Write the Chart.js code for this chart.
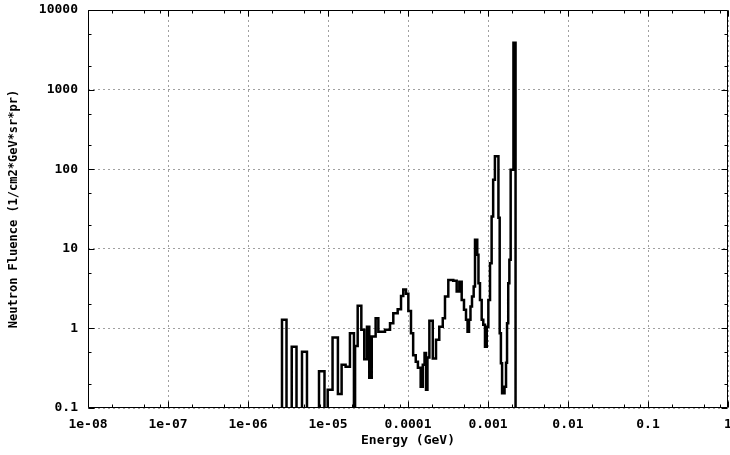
<!DOCTYPE html>
<html><head><meta charset="utf-8">
<script src="https://cdn.jsdelivr.net/npm/chart.js@4.4.0/dist/chart.umd.min.js"></script>
<style>html,body{margin:0;padding:0;background:#fff;}#wrap{width:730px;height:455px;}</style>
</head><body><div id="wrap"><canvas id="c" width="730" height="455"></canvas></div>
<script>
// bin left edges (GeV); the last entry is the right edge of the last bin
const binEdges = [
 2.66e-6,3.03e-6,3.52e-6,4.04e-6,4.73e-6,5.46e-6,7.72e-6,9.04e-6,9.91e-6,1.14e-5,
 1.33e-5,1.48e-5,1.66e-5,1.88e-5,2.11e-5,2.18e-5,2.35e-5,2.61e-5,2.84e-5,3.07e-5,
 3.28e-5,3.52e-5,3.94e-5,4.26e-5,5.16e-5,5.96e-5,6.55e-5,7.43e-5,8.18e-5,8.73e-5,
 9.44e-5,1.01e-4,1.09e-4,1.16e-4,1.25e-4,1.33e-4,1.44e-4,1.53e-4,1.61e-4,1.68e-4,
 1.75e-4,1.85e-4,2.04e-4,2.24e-4,2.46e-4,2.72e-4,2.90e-4,3.19e-4,3.68e-4,4.06e-4,
 4.38e-4,4.69e-4,5.01e-4,5.31e-4,5.55e-4,5.79e-4,6.04e-4,6.31e-4,6.62e-4,6.88e-4,
 7.34e-4,7.60e-4,7.94e-4,8.34e-4,8.73e-4,9.17e-4,9.64e-4,1.01e-3,1.06e-3,1.11e-3,
 1.16e-3,1.22e-3,1.35e-3,1.40e-3,1.45e-3,1.50e-3,1.61e-3,1.68e-3,1.73e-3,1.79e-3,
 1.85e-3,1.92e-3,2.08e-3,2.21e-3
];
// fluence per bin (0 = empty bin)
const fluence = [
 1.28,0,0.59,0,0.51,0,0.29,0,0.17,0.77,
 0.15,0.35,0.33,0.87,0,0.60,1.92,0.96,0.41,1.05,
 0.24,0.79,1.34,0.91,0.96,1.16,1.55,1.74,2.56,3.09,
 2.72,1.66,0.87,0.46,0.38,0.32,0.185,0.35,0.49,0.17,
 0.43,1.25,0.42,0.72,1.05,1.34,2.51,4.07,3.96,2.90,
 3.85,2.28,1.71,1.28,0.91,1.28,1.88,2.51,3.36,13.0,
 8.4,3.7,2.28,1.28,1.11,0.59,1.05,2.28,6.6,25.5,
 73.8,145,24.5,0.87,0.365,0.153,0.185,0.37,1.16,3.7,
 7.3,98.6,3870
];
const xTickValues = [1e-8,1e-7,1e-6,1e-5,1e-4,1e-3,1e-2,1e-1,1];
const xTickLabels = ['1e-08','1e-07','1e-06','1e-05','0.0001','0.001','0.01','0.1','1'];
const yTickValues = [0.1,1,10,100,1000,10000];
const yTickLabels = ['0.1','1','10','100','1000','10000'];
const xMinor = [2,5,8];
const yMinor = [2,5];
const xTitle = 'Energy (GeV)';
const yTitle = 'Neutron Fluence (1/cm2*GeV*sr*pr)';

const FLOOR = 0.01; // empty bins are drawn below the axis minimum (clipped)
const points = [{x: binEdges[0], y: FLOOR}];
fluence.forEach((v, i) => points.push({x: binEdges[i], y: v > 0 ? v : FLOOR}));
points.push({x: binEdges[binEdges.length - 1], y: FLOOR});

const font = {family: "'DejaVu Sans Mono', monospace", size: 13, weight: 'bold'};
const yTitleFont = {family: "'DejaVu Sans Mono', monospace", size: 12, weight: 'bold'};

const framePlugin = {
  id: 'frame',
  afterDatasetsDraw(chart) {
    const {ctx, chartArea: a, scales: {x, y}} = chart;
    ctx.save();
    ctx.strokeStyle = '#000';
    ctx.lineWidth = 1;
    const L = Math.round(a.left) + 0.5, R = Math.round(a.right) - 0.5;
    const T = Math.round(a.top) + 0.5, B = Math.round(a.bottom) - 0.5;
    ctx.beginPath();
    ctx.rect(L, T, R - L, B - T);
    const xt = [];
    xTickValues.forEach(d => { xt.push([d, 6]); xMinor.forEach(k => { if (d * k < 1) xt.push([d * k, 3]); }); });
    xt.forEach(([v, len]) => {
      const px = Math.round(x.getPixelForValue(v)) + 0.5;
      ctx.moveTo(px, B); ctx.lineTo(px, B - len);
      ctx.moveTo(px, T); ctx.lineTo(px, T + len);
    });
    const yt = [];
    yTickValues.forEach(d => { yt.push([d, 6]); yMinor.forEach(k => { if (d * k < 10000) yt.push([d * k, 3]); }); });
    yt.forEach(([v, len]) => {
      const py = Math.round(y.getPixelForValue(v)) + 0.5;
      ctx.moveTo(L, py); ctx.lineTo(L + len, py);
      ctx.moveTo(R, py); ctx.lineTo(R - len, py);
    });
    ctx.stroke();
    ctx.restore();
  }
};

new Chart(document.getElementById('c'), {
  type: 'line',
  data: {datasets: [{
    data: points, stepped: 'before', borderColor: '#000', borderWidth: 2.5,
    pointRadius: 0, fill: false, tension: 0
  }]},
  options: {
    responsive: false, animation: false,
    layout: {padding: {top: 10, right: 2, left: 0, bottom: 0}},
    plugins: {legend: {display: false}, tooltip: {enabled: false}},
    scales: {
      x: {
        type: 'logarithmic', position: 'bottom', min: 1e-8, max: 1,
        afterBuildTicks: s => { s.ticks = xTickValues.map(v => ({value: v})); },
        afterFit: s => { s.height = 47; s.paddingLeft = 0; s.paddingRight = 0; },
        ticks: {autoSkip: false, maxRotation: 0, padding: 9, color: '#000', font,
                callback: (v, i) => xTickLabels[i]},
        grid: {color: '#a0a0a0', lineWidth: 1, drawTicks: false},
        border: {display: false, dash: [2, 3]},
        title: {display: true, text: xTitle, color: '#000', font, padding: {top: 0, bottom: 7}}
      },
      y: {
        type: 'logarithmic', position: 'left', min: 0.1, max: 10000,
        afterBuildTicks: s => { s.ticks = yTickValues.map(v => ({value: v})); },
        afterFit: s => { s.width = 88; s.paddingTop = 0; s.paddingBottom = 0; },
        ticks: {autoSkip: false, padding: 10, color: '#000', font,
                callback: (v, i) => yTickLabels[i]},
        grid: {color: '#a0a0a0', lineWidth: 1, drawTicks: false},
        border: {display: false, dash: [2, 3]},
        title: {display: true, text: yTitle, color: '#000', font: yTitleFont, padding: {top: 7, bottom: 0}}
      }
    }
  },
  plugins: [framePlugin]
});
</script></body></html>
